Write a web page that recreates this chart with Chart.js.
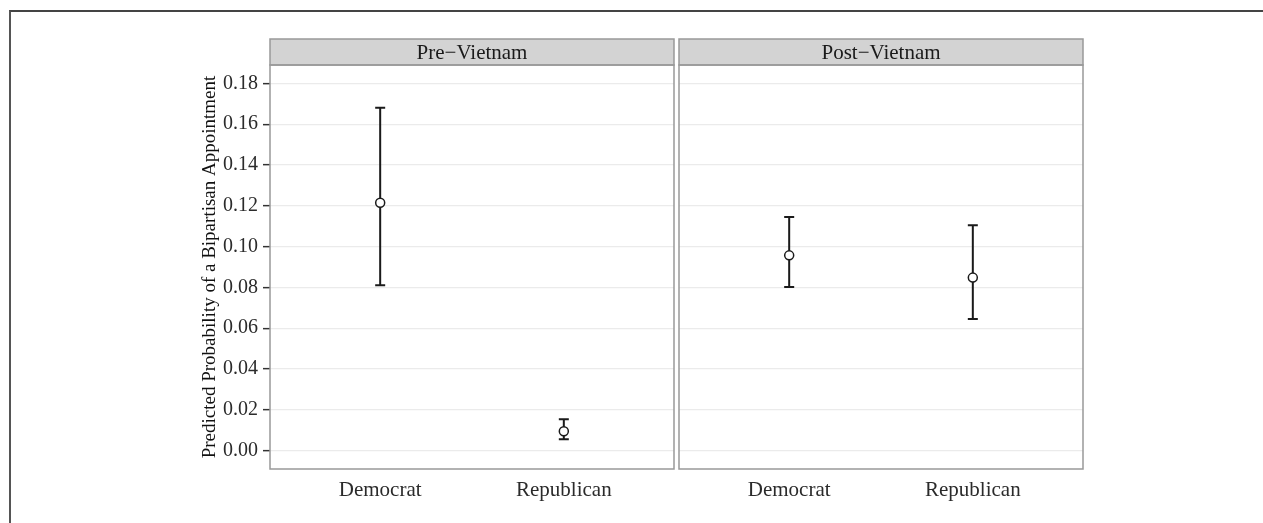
<!DOCTYPE html>
<html>
<head>
<meta charset="utf-8">
<script src="https://cdn.jsdelivr.net/npm/chart.js@4.4.0/dist/chart.umd.min.js"></script>
<style>
  html, body { margin: 0; padding: 0; background: #fff; }
  #wrap { position: relative; width: 1263px; height: 523px; overflow: hidden; }
  #frame { position: absolute; left: 9px; top: 10px; right: -10px; bottom: -10px; border-top: 2px solid #444; border-left: 2px solid #555; }
  canvas { position: absolute; top: 0; }
  #pre { left: 0; }
  #post { left: 673px; }
</style>
</head>
<body>
<div id="wrap">
  <div id="frame"></div>
  <canvas id="pre" width="680" height="523"></canvas>
  <canvas id="post" width="590" height="523"></canvas>
</div>
<script>
// categories and panels
const categories = ['Democrat', 'Republican'];
const panelTitles = ['Pre\u2212Vietnam', 'Post\u2212Vietnam'];
const yTicks = [0, 0.02, 0.04, 0.06, 0.08, 0.10, 0.12, 0.14, 0.16, 0.18];

// predicted probabilities with interval bounds
const preEstimate = [0.1215, 0.0095];
const preLower = [0.081, 0.0056];
const preUpper = [0.168, 0.0154];
const postEstimate = [0.0957, 0.0848];
const postLower = [0.0802, 0.0645];
const postUpper = [0.1145, 0.1105];

const serif = '"Liberation Serif", "Times New Roman", serif';

// error bars drawn from the chart's own scales
const errorBars = {
    id: 'errorBars',
    beforeDatasetsDraw(chart, args, opts) {
        const { ctx, scales: { x, y } } = chart;
        ctx.save();
        ctx.strokeStyle = '#1a1a1a';
        ctx.lineWidth = 2;
        opts.lower.forEach((lo, i) => {
            const px = x.getPixelForValue(i + 1);
            const top = y.getPixelForValue(opts.upper[i]);
            const bot = y.getPixelForValue(lo);
            ctx.beginPath();
            ctx.moveTo(px, top); ctx.lineTo(px, bot);
            ctx.moveTo(px - 5, top); ctx.lineTo(px + 5, top);
            ctx.moveTo(px - 5, bot); ctx.lineTo(px + 5, bot);
            ctx.stroke();
        });
        ctx.restore();
    }
};

// panel border and grey strip on top
const facet = {
    id: 'facet',
    afterDraw(chart, args, opts) {
        const { ctx, chartArea: a } = chart;
        ctx.save();
        ctx.fillStyle = '#d3d3d3';
        ctx.fillRect(a.left, a.top - 26, a.right - a.left, 26);
        ctx.strokeStyle = '#999';
        ctx.lineWidth = 1.5;
        ctx.strokeRect(a.left, a.top - 26, a.right - a.left, 26);
        ctx.strokeRect(a.left, a.top, a.right - a.left, a.bottom - a.top);
        ctx.fillStyle = '#1a1a1a';
        ctx.font = '21px ' + serif;
        ctx.textAlign = 'center';
        ctx.textBaseline = 'middle';
        ctx.fillText(opts.title, (a.left + a.right) / 2, a.top - 12);
        ctx.restore();
    }
};

function makePanel(id, idx, estimate, lower, upper, showY) {
    new Chart(document.getElementById(id), {
        type: 'scatter',
        data: {
            datasets: [{
                data: estimate.map((v, i) => ({ x: i + 1, y: v })),
                pointRadius: 4.5,
                pointBackgroundColor: '#fff',
                pointBorderColor: '#1a1a1a',
                pointBorderWidth: 1.5,
                showLine: false
            }]
        },
        options: {
            responsive: false,
            animation: false,
            layout: { padding: { left: showY ? 199 : 0, right: showY ? 0 : 180, top: 65, bottom: 14 } },
            plugins: {
                legend: { display: false },
                tooltip: { enabled: false },
                errorBars: { lower: lower, upper: upper },
                facet: { title: panelTitles[idx] }
            },
            scales: {
                x: {
                    type: 'linear',
                    min: 0.4,
                    max: 2.6,
                    afterBuildTicks: s => { s.ticks = categories.map((c, i) => ({ value: i + 1 })); },
                    afterFit: s => { s.height = 40; },
                    grid: { display: false, drawTicks: false },
                    border: { display: false },
                    ticks: {
                        padding: 9,
                        color: '#2b2b2b',
                        font: { family: serif, size: 21 },
                        callback: v => categories[v - 1]
                    }
                },
                y: {
                    min: -0.009,
                    max: 0.189,
                    afterBuildTicks: s => { s.ticks = yTicks.map(v => ({ value: v })); },
                    afterFit: s => { s.width = showY ? 71 : 0; },
                    grid: {
                        color: '#ebebeb',
                        lineWidth: 1.3,
                        drawTicks: showY,
                        tickLength: 7,
                        tickColor: '#333',
                        tickWidth: 1.5
                    },
                    border: { display: false },
                    ticks: {
                        display: showY,
                        padding: 5,
                        color: '#2b2b2b',
                        font: { family: serif, size: 20 },
                        callback: v => v.toFixed(2)
                    },
                    title: {
                        display: showY,
                        text: 'Predicted Probability of a Bipartisan Appointment',
                        color: '#111',
                        padding: { top: 0, bottom: 0 },
                        font: { family: serif, size: 19 }
                    }
                }
            }
        },
        plugins: [errorBars, facet]
    });
}

makePanel('pre', 0, preEstimate, preLower, preUpper, true);
makePanel('post', 1, postEstimate, postLower, postUpper, false);
</script>
</body>
</html>
